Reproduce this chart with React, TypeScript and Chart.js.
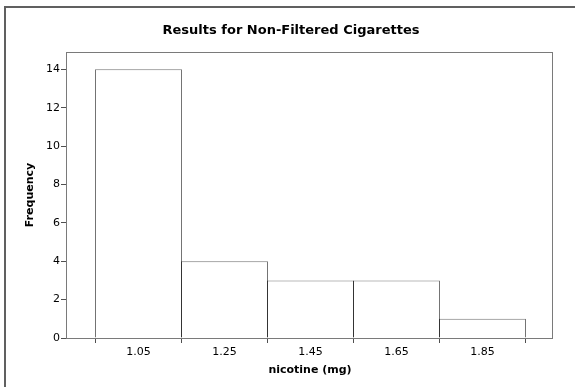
import React, { useEffect, useRef } from "react";
import { Chart, registerables } from "chart.js";

Chart.register(...registerables);

const TITLE = "Results for Non-Filtered Cigarettes";
const X_TITLE = "nicotine (mg)";
const Y_TITLE = "Frequency";
const binCenters = [1.05, 1.25, 1.45, 1.65, 1.85];
const frequencies = [14, 4, 3, 3, 1];
const xTickValues = [1.05, 1.25, 1.45, 1.65, 1.85];
const yTickValues = [0, 2, 4, 6, 8, 10, 12, 14];
const X_MIN = 0.883721;
const X_MAX = 2.013954;
const Y_MIN = 0;
const Y_MAX = 14.9;

const framePlugin = {
  id: "framePlugin",
  beforeDraw(chart: any) {
    const { ctx } = chart;
    ctx.save();
    ctx.fillStyle = "#ffffff";
    ctx.fillRect(0, 0, chart.width, chart.height);
    ctx.fillStyle = "#606060";
    ctx.fillRect(4, 6, 2, chart.height - 6);
    ctx.fillRect(4, 6, chart.width - 4, 2);
    ctx.restore();
  },
  afterDatasetsDraw(chart: any) {
    const { ctx, chartArea } = chart;
    ctx.save();
    ctx.strokeStyle = "#7a7a7a";
    ctx.lineWidth = 1;
    ctx.strokeRect(
      Math.round(chartArea.left) - 0.5,
      Math.round(chartArea.top) + 0.5,
      Math.round(chartArea.right - chartArea.left),
      Math.round(chartArea.bottom - chartArea.top)
    );
    ctx.restore();
  },
};

export default function App() {
  const canvasRef = useRef<HTMLCanvasElement | null>(null);

  useEffect(() => {
    if (!canvasRef.current) return;
    Chart.defaults.font.family = "'DejaVu Sans', Verdana, sans-serif";
    const chart = new Chart(canvasRef.current, {
      type: "bar",
      data: {
        datasets: [
          {
            label: "Frequency",
            data: binCenters.map((x, i) => ({ x, y: frequencies[i] })),
            backgroundColor: "#ffffff",
            borderColor: "rgba(0,0,0,0.55)",
            borderWidth: 1,
            borderSkipped: "start",
            barPercentage: 87 / 86,
            categoryPercentage: 1,
            inflateAmount: 0,
          } as any,
        ],
      },
      plugins: [framePlugin],
      options: {
        animation: false,
        responsive: false,
        devicePixelRatio: 1,
        layout: { padding: { left: 7, right: 0, top: 0, bottom: 0 } },
        plugins: {
          legend: { display: false },
          tooltip: { enabled: false },
          title: {
            display: true,
            text: TITLE,
            color: "#000000",
            font: { size: 13, weight: "bold" },
            padding: { top: 23.2, bottom: 13.2 },
          },
        },
        scales: {
          x: {
            type: "linear",
            min: X_MIN,
            max: X_MAX,
            offset: false,
            afterBuildTicks: (scale: any) => {
              scale.ticks = xTickValues.map((v) => ({ value: v }));
            },
            afterFit: (scale: any) => {
              scale.height = 49;
            },
            ticks: {
              color: "#000000",
              font: { size: 11 },
              padding: 3,
              maxRotation: 0,
              autoSkip: false,
              callback: (v: any) => Number(v).toFixed(2),
            },
            grid: {
              display: true,
              drawOnChartArea: false,
              drawTicks: true,
              tickLength: 5,
              tickColor: "#505050",
              color: "#505050",
            },
            border: { display: false },
            title: {
              display: true,
              text: X_TITLE,
              color: "#000000",
              font: { size: 11, weight: "bold" },
              padding: { top: 0, bottom: 10.4 },
            },
          },
          y: {
            type: "linear",
            min: Y_MIN,
            max: Y_MAX,
            afterBuildTicks: (scale: any) => {
              scale.ticks = yTickValues.map((v) => ({ value: v }));
            },
            afterFit: (scale: any) => {
              scale.width = 60;
            },
            ticks: {
              color: "#000000",
              font: { size: 11 },
              padding: 1,
              autoSkip: false,
            },
            grid: {
              display: true,
              drawOnChartArea: false,
              drawTicks: true,
              tickLength: 6,
              tickColor: "#505050",
              color: "#505050",
            },
            border: { display: false },
            title: {
              display: true,
              text: Y_TITLE,
              color: "#000000",
              font: { size: 11, weight: "bold" },
              padding: { top: 16.4, bottom: 0 },
            },
          },
          yRightSpace: {
            type: "linear",
            position: "right",
            display: true,
            afterFit: (scale: any) => {
              scale.width = 22;
            },
            ticks: { display: false },
            grid: { display: false, drawTicks: false },
            border: { display: false },
          },
        },
      } as any,
    });
    return () => chart.destroy();
  }, []);

  return (
    <div style={{ position: "absolute", left: 0, top: 0, width: 575, height: 387 }}>
      <canvas ref={canvasRef} width={575} height={387} style={{ display: "block" }} />
    </div>
  );
}
